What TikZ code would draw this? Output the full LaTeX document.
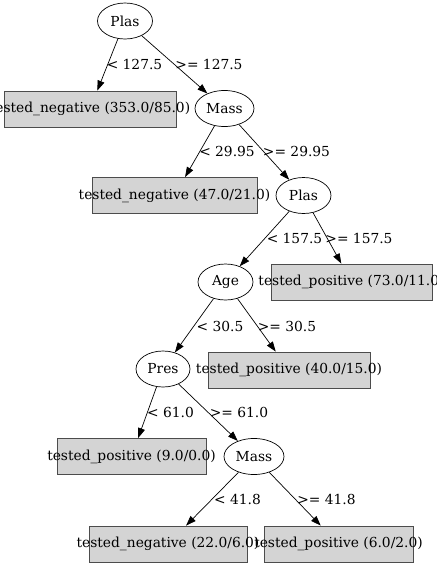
\documentclass[tikz,border=0pt]{standalone}
\usepackage{fontspec}
\setmainfont{DejaVu Serif}
\usetikzlibrary{shapes.geometric,arrows.meta}
\begin{document}
\begin{tikzpicture}[x=1pt,y=-1pt,
  every node/.style={font=\fontsize{13.8}{16}\selectfont},
  split/.style={ellipse,draw=black,line width=0.7pt,inner sep=0pt,minimum height=36pt},
  leafbox/.style={rectangle,draw=black!70,fill=black!17,line width=0.8pt,inner sep=0pt,minimum height=36pt},
  leaftext/.style={inner sep=0pt},
  cond/.style={inner sep=0pt},
  edge/.style={draw=black,line width=0.7pt,-{Triangle[length=10pt,width=7pt]}}]
\useasboundingbox (0,0) rectangle (437,566);
% split nodes
\node[split,minimum width=55pt] (plasA) at (125,21) {Plas};
\node[split,minimum width=59pt] (massA) at (224.5,108.5) {Mass};
\node[split,minimum width=55pt] (plasB) at (303.5,195.5) {Plas};
\node[split,minimum width=55pt] (age) at (225.5,282) {Age};
\node[split,minimum width=54pt] (pres) at (163,369) {Pres};
\node[split,minimum width=60pt] (massB) at (254,456.5) {Mass};
% leaves
\node[leafbox,minimum width=172pt] (leafA) at (90,109) {};
\node[leafbox,minimum width=165pt] (leafB) at (174.5,195.5) {};
\node[leafbox,minimum width=161pt] (leafC) at (351.5,282) {};
\node[leafbox,minimum width=162pt] (leafD) at (289,370) {};
\node[leafbox,minimum width=149pt] (leafE) at (131.5,456.5) {};
\node[leafbox,minimum width=158pt] (leafF) at (168,544) {};
\node[leafbox,minimum width=149pt] (leafG) at (338.5,544) {};
\node[leaftext] (tA) at (leafA) {tested\_negative (353.0/85.0)};
\node[leaftext] (tB) at (leafB) {tested\_negative (47.0/21.0)};
\node[leaftext] (tC) at (leafC) {tested\_positive (73.0/11.0)};
\node[leaftext] (tD) at (leafD) {tested\_positive (40.0/15.0)};
\node[leaftext] (tE) at (leafE) {tested\_positive (9.0/0.0)};
\node[leaftext] (tF) at (leafF) {tested\_negative (22.0/6.0)};
\node[leaftext] (tG) at (leafG) {tested\_positive (6.0/2.0)};
% edges
\draw[edge] (plasA) -- (leafA);
\draw[edge] (plasA) -- (massA);
\draw[edge] (massA) -- (leafB);
\draw[edge] (massA) -- (plasB);
\draw[edge] (plasB) -- (age);
\draw[edge] (plasB) -- (leafC);
\draw[edge] (age) -- (pres);
\draw[edge] (age) -- (leafD);
\draw[edge] (pres) -- (leafE);
\draw[edge] (pres) -- (massB);
\draw[edge] (massB) -- (leafF);
\draw[edge] (massB) -- (leafG);
% edge labels
\node[cond] (c1) at (134.5,64) {< 127.5};
\node[cond] (c2) at (209,64) {>= 127.5};
\node[cond] (c3) at (227,151) {< 29.95};
\node[cond] (c4) at (296.5,151) {>= 29.95};
\node[cond] (c5) at (294.5,238) {< 157.5};
\node[cond] (c6) at (359,238) {>= 157.5};
\node[cond] (c7) at (220,326) {< 30.5};
\node[cond] (c8) at (287,326) {>= 30.5};
\node[cond] (c9) at (170.5,412) {< 61.0};
\node[cond] (c10) at (239,412) {>= 61.0};
\node[cond] (c11) at (237.5,499) {< 41.8};
\node[cond] (c12) at (326.5,499) {>= 41.8};
\end{tikzpicture}
\end{document}
